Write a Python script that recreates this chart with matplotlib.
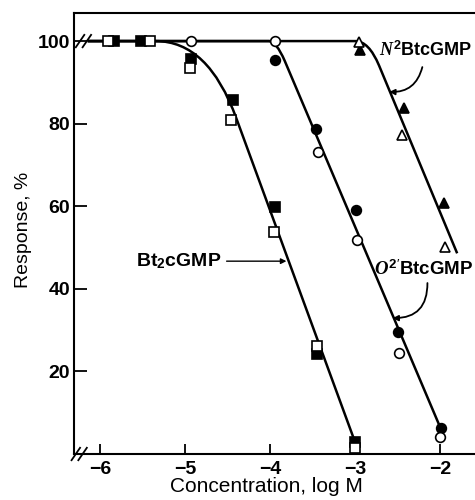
import matplotlib
matplotlib.use('Agg')
import matplotlib.pyplot as plt
from matplotlib.path import Path
from matplotlib.patches import PathPatch

plt.rcParams['font.family'] = ['Liberation Sans', 'DejaVu Sans']
plt.rcParams['mathtext.fontset'] = 'custom'
plt.rcParams['mathtext.rm'] = 'Liberation Sans'
plt.rcParams['mathtext.bf'] = 'Liberation Sans:bold'
plt.rcParams['mathtext.it'] = 'Liberation Serif:italic:bold'

# Bt2cGMP (squares)
bt2_open_x = [-5.91, -5.42, -4.95, -4.46, -3.96, -3.45, -3.00]
bt2_open_y = [100, 100, 93.5, 81.0, 53.8, 26.2, 1.4]
bt2_fill_x = [-5.84, -5.52, -4.93, -4.44, -3.95, -3.45, -3.00]
bt2_fill_y = [100, 100, 95.6, 85.7, 59.9, 24.2, 3.0]

# O2'BtcGMP (circles)
o2_open_x = [-4.93, -3.94, -3.44, -2.98, -2.48, -2.00]
o2_open_y = [100, 100, 73.2, 51.8, 24.5, 4.0]
o2_fill_x = [-3.94, -3.46, -2.99, -2.50, -1.99]
o2_fill_y = [95.5, 78.6, 59.2, 29.6, 6.2]

# N2BtcGMP (triangles)
n2_open_x = [-2.96, -2.45, -1.94]
n2_open_y = [99.8, 77.2, 50.2]
n2_fill_x = [-2.94, -2.43, -1.95]
n2_fill_y = [97.8, 83.7, 60.8]

# hand-drawn curves: flat start, rounded corner, straight fall
bt2_curve_x = [-6.15, -5.35, -4.73, -4.40, -2.99]
bt2_curve_y = [100, 100, 100, 81.3, 2.2]
o2_curve_x = [-6.15, -4.02, -3.93, -3.83, -1.98]
o2_curve_y = [100, 100, 100, 95.2, 5.5]
n2_curve_x = [-6.15, -3.00, -2.84, -2.72, -1.80]
n2_curve_y = [100, 100, 100, 94.1, 48.6]

x_ticks = [-6, -5, -4, -3, -2]
y_ticks = [20, 40, 60, 80, 100]

fig = plt.figure(figsize=(4.75, 5.0), dpi=100)
ax = fig.add_axes([0.156, 0.092, 0.844, 0.882])
ax.set_xlim(-6.31, -1.59)
ax.set_ylim(0, 106.8)

for s in ['left', 'top', 'bottom']:
    ax.spines[s].set_linewidth(1.5)
ax.spines['right'].set_visible(False)

ax.set_xticks(x_ticks)
ax.set_yticks(y_ticks)
ax.tick_params(axis='x', direction='in', length=7, width=1.3, pad=5)
ax.tick_params(axis='y', direction='in', length=9, width=1.3, pad=3)
for lab in ax.get_xticklabels() + ax.get_yticklabels():
    lab.set_fontsize(14)
    lab.set_fontweight('bold')

ax.set_xlabel('Concentration, log M', fontsize=15)
ax.xaxis.set_label_coords(0.481, -0.052)
ax.set_ylabel('Response, %', fontsize=14)
ax.yaxis.set_label_coords(-0.105, 0.508)

codes = [Path.MOVETO, Path.LINETO, Path.CURVE3, Path.CURVE3, Path.LINETO]
for cx, cy in [(bt2_curve_x, bt2_curve_y), (o2_curve_x, o2_curve_y), (n2_curve_x, n2_curve_y)]:
    path = Path(list(zip(cx, cy)), codes)
    ax.add_patch(PathPatch(path, fill=False, lw=1.8, edgecolor='black', zorder=2, capstyle='butt'))

mk = dict(linestyle='none', markeredgecolor='black', markeredgewidth=1.2, zorder=3)
ax.plot(bt2_fill_x, bt2_fill_y, marker='s', ms=6.5, markerfacecolor='black', **mk)
ax.plot(bt2_open_x, bt2_open_y, marker='s', ms=6.5, markerfacecolor='white', **mk)
ax.plot(o2_fill_x, o2_fill_y, marker='o', ms=7, markerfacecolor='black', **mk)
ax.plot(o2_open_x, o2_open_y, marker='o', ms=7, markerfacecolor='white', **mk)
ax.plot(n2_fill_x, n2_fill_y, marker='^', ms=7.5, markerfacecolor='black', **mk)
ax.plot(n2_open_x, n2_open_y, marker='^', ms=7.5, markerfacecolor='white', **mk)

# axis break marks
for bx, by in [(-6.2, 100), (-6.25, 0)]:
    for off in (-0.04, 0.04):
        ax.plot([bx + off - 0.05, bx + off + 0.05], [by - 1.5, by + 1.5],
                color='black', lw=1.3, clip_on=False, zorder=4)

# labels with arrows
ax.annotate('Bt$_\\mathbf{2}$cGMP', xy=(-3.81, 46.7), xytext=(-4.58, 46.7),
            ha='right', va='center', fontsize=14, fontweight='bold',
            arrowprops=dict(arrowstyle='-|>', color='black', lw=1.0,
                            mutation_scale=8, shrinkA=2, shrinkB=0))

ax.text(-2.72, 96.3, '$\\mathit{N}^{\\mathbf{2}}$BtcGMP', fontsize=13,
        fontweight='bold', ha='left', va='baseline')
ax.annotate('', xy=(-2.60, 87.7), xytext=(-2.21, 93.7),
            arrowprops=dict(arrowstyle='-|>', color='black', lw=1.3,
                            mutation_scale=8, shrinkA=0, shrinkB=0,
                            connectionstyle='arc3,rad=-0.4'))

ax.text(-2.78, 43.3, "$\\mathit{O}^{\\mathbf{2}\\prime}$BtcGMP", fontsize=13.5,
        fontweight='bold', ha='left', va='baseline')
ax.annotate('', xy=(-2.56, 32.9), xytext=(-2.15, 41.4),
            arrowprops=dict(arrowstyle='-|>', color='black', lw=1.3,
                            mutation_scale=8, shrinkA=0, shrinkB=0,
                            connectionstyle='arc3,rad=-0.5'))

fig.savefig('out.png', dpi=100)
